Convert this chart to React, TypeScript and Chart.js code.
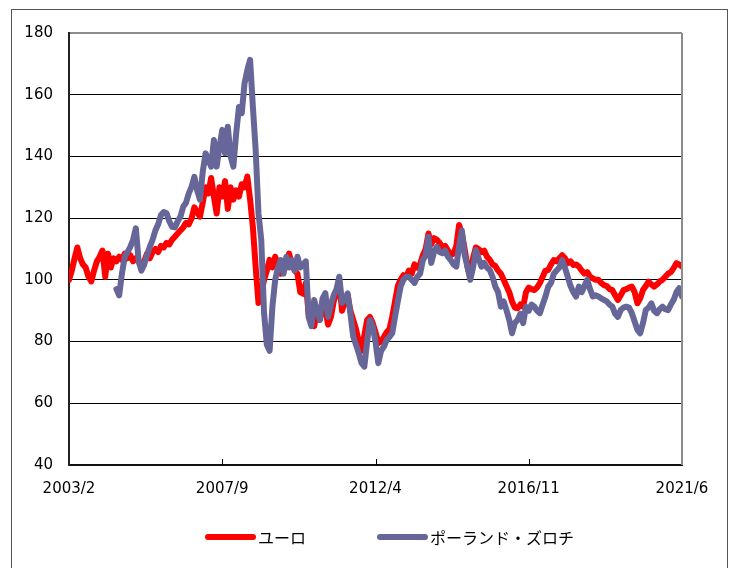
import React, { useEffect, useRef } from "react";
import { Chart, registerables } from "chart.js";

Chart.register(...registerables);

// Month index 0 = 2003/2, 220 = 2021/6
const tickLabels = ["2003/2", "2007/9", "2012/4", "2016/11", "2021/6"];
const tickStep = 55;
const yTicks = [40, 60, 80, 100, 120, 140, 160, 180];

const seriesNames = ["ユーロ", "ポーランド・ズロチ"];

const euro = [
  100, 103, 107, 110.5, 107, 105, 104, 101, 99.5, 103,
  106, 107.5, 109.5, 101, 108.5, 104, 107, 106, 107.5, 106.5,
  108.5, 107, 108, 106, 107, 106, 104.5, 106, 108.5, 107,
  109, 110, 109, 111, 110.5, 112, 111.5, 113, 114, 115,
  116, 117, 118.5, 118, 120, 123.5, 122, 120.5, 125, 130,
  128, 133, 127, 121.5, 130, 127, 132, 123, 130, 126,
  129, 127, 131, 130, 133.5, 126, 117, 104, 92.5, 95.5,
  100, 103, 106.5, 104, 107.5, 105, 102, 104, 106, 108.5,
  105, 103, 102, 96, 95.5, 99, 89, 86, 85, 90,
  87, 93, 90, 85.5, 88, 93, 96, 99, 90, 93,
  95, 90, 87, 84, 80, 77, 82, 87, 88, 86,
  83, 79.5, 80, 81.5, 83, 84, 88, 93, 98, 100,
  101.5, 101, 103, 102, 105, 104, 105, 108, 110, 115,
  111.5, 113.5, 113, 112, 110.5, 111, 109.5, 108, 108.5, 111,
  117.8, 115, 110, 104.3, 101, 107, 110.5, 110, 109, 109.5,
  107.5, 106.5, 105, 104.5, 103, 102, 100, 98, 96, 93,
  91, 90.8, 92, 91.3, 96, 97.5, 97, 96.7, 97.5, 99,
  101, 103, 103.2, 105, 106.4, 106, 107, 108, 107, 105.4,
  106, 104.8, 105, 104.3, 103, 102, 102.5, 101, 100.5, 100,
  100, 99, 98.3, 98, 97, 96.7, 95, 93.5, 95, 96.7,
  97, 97.5, 97.8, 96, 92.4, 94, 96.7, 98, 99.4, 98.5,
  97.8, 98.5, 99.5, 100, 101, 102, 102.5, 103.8, 105.4, 105,
  104.3,
];

// Zloty series begins at month index 17 (2004/7)
const zlotyStart = 17;
const zloty = [
  97, 95, 102, 107.5, 109, 110.7, 113, 116.7, 106, 103,
  105, 108, 110.7, 113, 116, 118, 121, 122, 121.6, 119,
  117.2, 117, 119, 120.5, 123.7, 125, 128, 130.2, 133.4, 129,
  126, 135, 141, 139, 136.7, 145.3, 136.7, 143, 148.6, 141,
  149.6, 140, 136.7, 147.5, 156, 154, 163.7, 168, 171.3, 156,
  142, 121.6, 113, 89.3, 79, 77, 91.3, 100, 104, 106.4,
  102, 107.5, 104, 106.4, 103, 107.5, 104, 105, 106, 88,
  85, 93.5, 90, 87, 94, 95.7, 88, 92, 95, 97,
  101, 92.5, 94, 95.6, 89, 81.6, 79, 76.2, 73, 71.9,
  80, 87, 84.8, 80, 73, 77, 78.3, 80.5, 81.5, 82.7,
  88, 93, 97.8, 100, 101, 101, 100, 99, 101, 102,
  106.4, 108, 114, 105.5, 109, 110.7, 109, 108.6, 109.5, 107.5,
  106.4, 105, 104.3, 111, 116, 108, 104.3, 100, 104, 109.7,
  107, 104.3, 105.5, 104, 103.2, 101, 97.8, 96, 91.3, 93,
  90.2, 87, 82.7, 86, 87, 89, 86, 91.3, 90, 92,
  91.3, 90, 89.2, 92, 94.6, 97.8, 99, 102, 103, 104,
  106.4, 104, 101, 98, 96, 94.6, 97.8, 96, 98, 100,
  97, 94.6, 95, 94.6, 94, 93.5, 93, 92, 91.3, 89,
  88, 90.2, 91, 91.3, 91, 89.2, 86.5, 83.8, 82.7, 86,
  90.2, 91, 92.4, 90, 89.2, 90.5, 91.3, 90.5, 90.2, 92,
  93.5, 96, 97.3, 94.6,
];

const RED = "#ff0000";
const BLUE = "#666699";
const TICK_FONT = { family: "'DejaVu Sans', sans-serif", size: 15 };

const framePlugin = {
  id: "frame",
  afterDatasetsDraw(chart: any) {
    const { ctx, chartArea, scales } = chart;
    ctx.save();
    // right border (grey)
    ctx.strokeStyle = "#8c8c8c";
    ctx.lineWidth = 2;
    ctx.beginPath();
    ctx.moveTo(chartArea.right, chartArea.top);
    ctx.lineTo(chartArea.right, chartArea.bottom);
    ctx.stroke();
    // inward tick marks on the x axis
    ctx.strokeStyle = "#000";
    ctx.lineWidth = 1;
    for (let i = 1; i < tickLabels.length - 1; i++) {
      const x = Math.round(scales.x.getPixelForValue(i * tickStep)) + 0.5;
      ctx.beginPath();
      ctx.moveTo(x, chartArea.bottom - 6);
      ctx.lineTo(x, chartArea.bottom);
      ctx.stroke();
    }
    ctx.restore();
  },
};

function ChartView() {
  const ref = useRef<HTMLCanvasElement | null>(null);
  useEffect(() => {
    if (!ref.current) return;
    const euroPts = euro.map((v, i) => ({ x: i, y: v }));
    const zlotyPts = zloty.map((v, i) => ({ x: i + zlotyStart, y: v }));
    const chart = new Chart(ref.current, {
      type: "line",
      data: {
        datasets: [
          {
            label: seriesNames[0],
            data: euroPts,
            borderColor: RED,
            backgroundColor: RED,
            borderWidth: 6,
            pointRadius: 0,
            tension: 0,
            borderJoinStyle: "round",
            borderCapStyle: "round",
            order: 1,
          },
          {
            label: seriesNames[1],
            data: zlotyPts,
            borderColor: BLUE,
            backgroundColor: BLUE,
            borderWidth: 6,
            pointRadius: 0,
            tension: 0,
            borderJoinStyle: "round",
            borderCapStyle: "round",
            order: 0,
          },
        ],
      },
      options: {
        animation: false,
        responsive: false,
        parsing: false as any,
        layout: { padding: { left: 0, top: 33, right: 51, bottom: 58 } },
        plugins: {
          legend: { display: false },
          tooltip: { enabled: false },
        },
        scales: {
          x: {
            type: "linear",
            min: 0,
            max: 220,
            afterFit: (s: any) => {
              s.height = 45;
            },
            afterBuildTicks: (s: any) => {
              s.ticks = tickLabels.map((_, i) => ({ value: i * tickStep }));
            },
            ticks: {
              color: "#000",
              font: TICK_FONT,
              padding: 15,
              maxRotation: 0,
              autoSkip: false,
              callback: (v: any) => tickLabels[Math.round(Number(v) / tickStep)] ?? "",
            },
            grid: { display: true, drawOnChartArea: false, drawTicks: false },
            border: { display: true, color: "#111", width: 2 },
          },
          y: {
            type: "linear",
            min: 40,
            max: 180,
            afterFit: (s: any) => {
              s.width = 69;
            },
            afterBuildTicks: (s: any) => {
              s.ticks = yTicks.map((v) => ({ value: v }));
            },
            ticks: {
              color: "#000",
              font: TICK_FONT,
              padding: 16,
            },
            grid: {
              drawTicks: false,
              color: (c: any) => (c.tick && c.tick.value === 180 ? "#8c8c8c" : "#000"),
              lineWidth: (c: any) => (c.tick && c.tick.value === 180 ? 2 : 1),
            },
            border: { display: true, color: "#222", width: 2 },
          },
        },
      },
      plugins: [framePlugin],
    });
    return () => chart.destroy();
  }, []);
  return <canvas ref={ref} width={733} height={568} style={{ display: "block" }} />;
}

const legendText: React.CSSProperties = {
  fontFamily: "'Noto Sans CJK JP', sans-serif",
  fontSize: 16,
  color: "#000",
  marginLeft: 2,
  lineHeight: "20px",
};

export default function App() {
  return (
    <div
      style={{
        position: "fixed",
        left: 0,
        top: 0,
        width: 733,
        height: 568,
        overflow: "hidden",
        background: "#fff",
      }}
    >
      <div
        style={{
          position: "absolute",
          left: 11,
          top: 9,
          width: 717,
          height: 600,
          border: "1px solid #555",
          boxSizing: "border-box",
        }}
      />
      <div style={{ position: "absolute", left: 0, top: 0 }}>
        <ChartView />
      </div>
      <div style={{ position: "absolute", left: 205, top: 527, display: "flex", alignItems: "center", height: 20 }}>
        <div style={{ width: 51, height: 6, borderRadius: 3, background: RED }} />
        <span style={legendText}>{seriesNames[0]}</span>
      </div>
      <div style={{ position: "absolute", left: 377, top: 527, display: "flex", alignItems: "center", height: 20 }}>
        <div style={{ width: 51, height: 6, borderRadius: 3, background: BLUE }} />
        <span style={legendText}>{seriesNames[1]}</span>
      </div>
    </div>
  );
}
